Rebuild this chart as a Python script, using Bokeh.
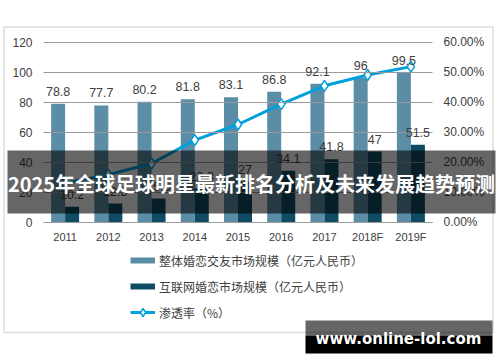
from bokeh.plotting import figure
from bokeh.models import (Range1d, LinearAxis, FixedTicker, PrintfTickFormatter,
                          ColumnDataSource, LabelSet, Legend, LegendItem, BoxAnnotation, Label)
from bokeh.core.properties import value
from bokeh.embed import file_html
from bokeh.resources import INLINE

years = ["2011", "2012", "2013", "2014", "2015", "2016", "2017", "2018F", "2019F"]
total_market = [78.8, 77.7, 80.2, 81.8, 83.1, 86.8, 92.1, 96, 99.5]
online_market = [10.2, 12.3, 15.6, 22.3, 27, 34.1, 41.8, 47, 51.5]
penetration = [12.9, 15.8, 19.5, 27.3, 32.5, 39.3, 45.4, 49.0, 51.8]
left_ticks = [0, 20, 40, 60, 80, 100, 120]
right_ticks = [0, 10, 20, 30, 40, 50, 60]
legend_labels = ["整体婚恋交友市场规模（亿元人民币）", "互联网婚恋市场规模（亿元人民币）", "渗透率（%）"]
title_text = "2025年全球足球明星最新排名分析及未来发展趋势预测"
watermark_text = "www.online-lol.com"

LIGHT = "#5B8EA6"
DARK = "#0F4C64"
BLUE = "#00A0DC"
TXT = "#404040"
NUM_FONT = "Liberation Sans"
CJK_FONT = "Noto Sans CJK SC"

W, H = 500, 362
# plot area in canvas pixels
PL, PR, PT, PB = 43, 432, 41.5, 221.5
n = len(years)
kx = (PR - PL) / n
ky = (PB - PT) / (left_ticks[-1] - left_ticks[0])
kp = (PB - PT) / (right_ticks[-1] - right_ticks[0])

x_center = [i + 0.5 for i in range(n)]
off = 0.162
src = ColumnDataSource(dict(
    xc=x_center,
    xl=[x - off for x in x_center],
    xd=[x + off for x in x_center],
    total=total_market, online=online_market, pct=penetration,
    total_lbl=[f"{v:g}" for v in total_market],
    online_lbl=[f"{v:g}" for v in online_market],
))

p = figure(width=W, height=H, title=None,
           x_range=Range1d(-PL / kx, n + (W - PR) / kx),
           y_range=Range1d(-(H - PB) / ky, left_ticks[-1] + PT / ky),
           x_axis_type=None, y_axis_type=None,
           output_backend="svg", toolbar_location=None, min_border=0,
           background_fill_color="white", border_fill_color="white", outline_line_color=None)
p.extra_y_ranges = {"pct": Range1d(-(H - PB) / kp, right_ticks[-1] + PT / kp)}

# left axis (its inward ticks act as the horizontal gridlines)
lax = LinearAxis(fixed_location=0, ticker=FixedTicker(ticks=left_ticks))
lax.axis_line_color = None
lax.major_tick_line_color = "#9a9a9a"
lax.major_tick_in = int(PR - PL)
lax.major_tick_out = 0
lax.minor_tick_line_color = None
lax.major_label_standoff = 11
lax.major_label_text_font = NUM_FONT
lax.major_label_text_font_size = "12px"
lax.major_label_text_color = TXT
p.add_layout(lax, "left")

rax = LinearAxis(y_range_name="pct", fixed_location=n, ticker=FixedTicker(ticks=right_ticks),
                 formatter=PrintfTickFormatter(format="%.2f%%"))
rax.axis_line_color = None
rax.major_tick_line_color = None
rax.minor_tick_line_color = None
rax.major_tick_out = 0
rax.major_tick_in = 0
rax.major_label_standoff = 11
rax.major_label_text_font = NUM_FONT
rax.major_label_text_font_size = "12px"
rax.major_label_text_color = TXT
p.add_layout(rax, "right")

bax = LinearAxis(fixed_location=0, ticker=FixedTicker(ticks=x_center), bounds=(0, n),
                 major_label_overrides={x: y for x, y in zip(x_center, years)})
bax.axis_line_color = "#8c8c8c"
bax.major_tick_line_color = None
bax.minor_tick_line_color = None
bax.major_tick_out = 0
bax.major_tick_in = 0
bax.major_label_standoff = 9
bax.major_label_text_font = NUM_FONT
bax.major_label_text_font_size = "11px"
bax.major_label_text_color = TXT
p.add_layout(bax, "below")

bw = 2 * off
p.vbar(x="xl", top="total", width=bw, source=src, fill_color=LIGHT, line_color=None)
p.vbar(x="xd", top="online", width=bw, source=src, fill_color=DARK, line_color=None)

pl = p.line("xc", "pct", source=src, y_range_name="pct", line_color=BLUE, line_width=3)
ps = p.scatter("xc", "pct", source=src, y_range_name="pct", marker="diamond", size=11,
               fill_color="white", line_color=BLUE, line_width=1.5)

# legend swatches (placed far off-canvas, only used by the legend)
dummy = ColumnDataSource(dict(x=[0, 1], y=[-1000, -1000]))
r1 = p.line("x", "y", source=dummy, line_color=LIGHT, line_width=6)
r2 = p.line("x", "y", source=dummy, line_color=DARK, line_width=6)

for xcol, col, lbl in [("xl", "total", "total_lbl"), ("xd", "online", "online_lbl")]:
    p.add_layout(LabelSet(x=xcol, y=col, text=lbl, source=src,
                          text_align="center", text_baseline="middle", y_offset=12.5,
                          text_font=value(NUM_FONT), text_font_size="12.5px", text_color=TXT))

legend = Legend(items=[LegendItem(label=legend_labels[0], renderers=[r1]),
                       LegendItem(label=legend_labels[1], renderers=[r2]),
                       LegendItem(label=legend_labels[2], renderers=[pl, ps])],
                location=(130, H - 322), orientation="vertical",
                glyph_width=25, glyph_height=20, label_height=20, spacing=6,
                padding=0, margin=0, label_standoff=4,
                border_line_color=None, background_fill_alpha=0,
                label_text_font=CJK_FONT, label_text_font_size="12px", label_text_color=TXT)
p.add_layout(legend)

S = dict(left_units="screen", right_units="screen", top_units="screen", bottom_units="screen")
p.add_layout(BoxAnnotation(left=3.5, right=492.5, top=H - 26.5, bottom=H - 332, fill_alpha=0,
                           line_color="#8c8c8c", line_width=1.5, **S))

p.add_layout(BoxAnnotation(left=7, right=495, top=H - 150, bottom=H - 213, fill_color="black",
                           fill_alpha=0.6, line_color=None, **S))
p.add_layout(Label(x=251, y=H - 183, x_units="screen", y_units="screen", text=title_text,
                   text_align="center", text_baseline="middle", text_font=CJK_FONT,
                   text_font_style="bold", text_font_size="20px", text_color="white"))

p.add_layout(BoxAnnotation(left=305, right=492, top=H - 320, bottom=H - 335, fill_color="black",
                           fill_alpha=0.6, line_color=None, **S))
p.add_layout(BoxAnnotation(left=305, right=492, top=H - 335, bottom=H - 353, fill_color="black",
                           fill_alpha=1, line_color=None, **S))
p.add_layout(Label(x=398, y=H - 338, x_units="screen", y_units="screen", text=watermark_text,
                   text_align="center", text_baseline="middle", text_font="DejaVu Sans",
                   text_font_style="bold", text_font_size="15px", text_color="white"))

open("out.html", "w").write(file_html(p, INLINE))
